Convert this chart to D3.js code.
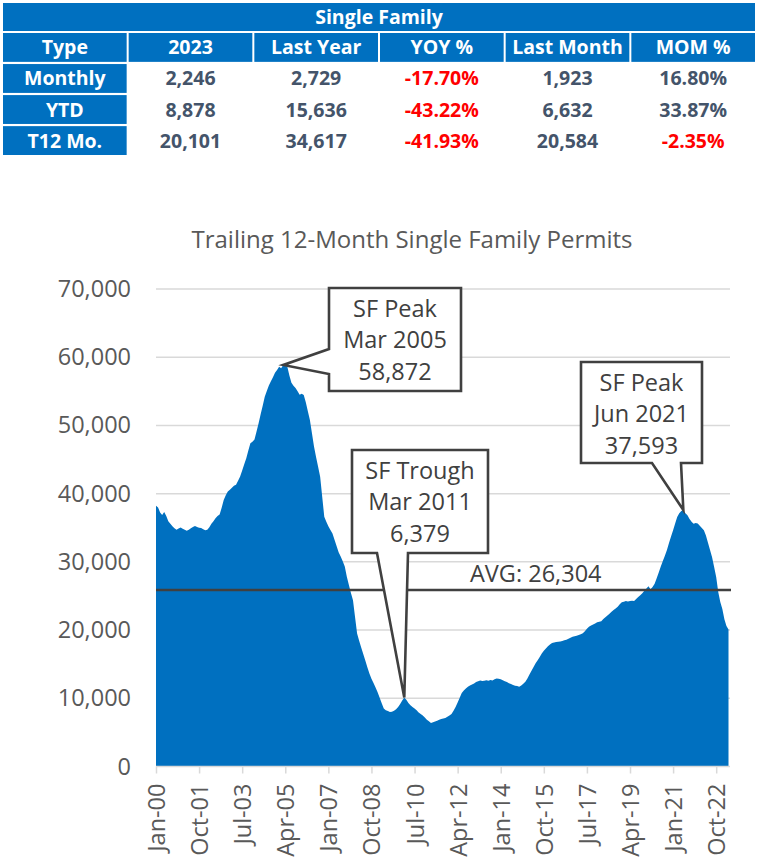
<!doctype html>
<head>
<meta charset="utf-8">
<style>
  body { margin: 0; background: #fff; font-family: "Open Sans", Arial, sans-serif; }
  svg text { font-family: "Open Sans", Arial, sans-serif; }
</style>
<script src="https://cdnjs.cloudflare.com/ajax/libs/d3/7.8.5/d3.min.js"></script>
</head>
<body>
<script>
// ---- table data ----
var tableTitle = "Single Family";
var columns = ["Type", "2023", "Last Year", "YOY %", "Last Month", "MOM %"];
var rowTypes = ["Monthly", "YTD", "T12 Mo."];
var current = [2246, 8878, 20101];
var lastYear = [2729, 15636, 34617];
var yoyPct = [-17.70, -43.22, -41.93];
var lastMonth = [1923, 6632, 20584];
var momPct = [16.80, 33.87, -2.35];

// ---- chart data: trailing 12-month SF permits, Jan 2000 .. Apr 2023 ----
var chartTitle = "Trailing 12-Month Single Family Permits";
var permits = [
  38210, 37980, 37250, 36870, 37310, 36720, 35940, 35580, 35210, 34930, 34690, 34880, // 2000
  35020, 34870, 34710, 34560, 34690, 34930, 35110, 35240, 35120, 35010, 34980, 34790, // 2001
  34650, 34720, 35080, 35590, 35970, 36380, 36710, 36940, 37920, 39080, 39760, 40310, // 2002
  40580, 40870, 41150, 41320, 41880, 42530, 43390, 44310, 45190, 46320, 47380, 47610, // 2003
  47920, 49120, 50310, 51640, 52870, 54190, 55060, 55870, 56480, 57060, 57710, 58140, // 2004
  58610, 58390, 58872, 58720, 58590, 57310, 56240, 55810, 55470, 55020, 54510, 54630, // 2005
  54460, 53380, 52090, 50790, 48870, 46920, 45380, 43960, 42480, 39560, 36620, 35870, // 2006
  35210, 34680, 34170, 33240, 32310, 31420, 30780, 30090, 29320, 27810, 26590, 25420, // 2007
  24380, 21920, 19510, 18420, 17460, 16480, 15530, 14540, 13620, 12870, 12240, 11590, // 2008
  10870, 10080, 9290, 8510, 8260, 8120, 7990, 8030, 8160, 8380, 8710, 9180,           // 2009
  9690, 10110, 9780, 9320, 8980, 8710, 8490, 8240, 7930, 7710, 7480, 7190,            // 2010
  6870, 6620, 6379, 6480, 6590, 6720, 6850, 6960, 7030, 7120, 7290, 7480,             // 2011
  7690, 8170, 8720, 9390, 10080, 10790, 11140, 11420, 11680, 11870, 12010, 12180,     // 2012
  12390, 12480, 12610, 12530, 12580, 12640, 12570, 12690, 12620, 12780, 12910, 12870, // 2013
  12790, 12640, 12510, 12380, 12220, 12090, 11960, 11840, 11790, 11680, 11890, 12120, // 2014
  12410, 12890, 13480, 14030, 14580, 15120, 15590, 16070, 16580, 16970, 17310, 17620, // 2015
  17880, 18110, 18170, 18240, 18290, 18330, 18410, 18520, 18590, 18710, 18860, 19010, // 2016
  19080, 19170, 19260, 19380, 19520, 19810, 20180, 20490, 20670, 20820, 20960, 21140, // 2017
  21230, 21310, 21620, 21870, 22140, 22410, 22680, 22930, 23170, 23420, 23780, 24090, // 2018
  24170, 24260, 24190, 24280, 24310, 24270, 24560, 24830, 25120, 25380, 25760, 26090, // 2019
  26420, 25980, 26310, 26790, 27610, 28430, 29310, 30120, 30890, 31740, 32760, 33720, // 2020
  34640, 35610, 36580, 37120, 37460, 37593, 37140, 36820, 36290, 35870, 35580, 35690, // 2021
  35620, 35310, 34980, 34617, 33870, 32810, 31720, 30680, 29250, 27790, 25580, 24120, // 2022
  23100, 21600, 20584, 20101                                                          // 2023
];
var tickLabels = ["Jan-00", "Oct-01", "Jul-03", "Apr-05", "Jan-07", "Oct-08", "Jul-10",
                  "Apr-12", "Jan-14", "Oct-15", "Jul-17", "Apr-19", "Jan-21", "Oct-22"];
var yTicks = [0, 10000, 20000, 30000, 40000, 50000, 60000, 70000];
var avgLineValue = 25870;
var avgLabel = "AVG: 26,304";

// callouts: month index the pointer touches, and text lines
var calloutIdx = [62, 121, 257];
var calloutText = [
  ["SF Peak", "Mar 2005", "58,872"],
  ["SF Trough", "Mar 2011", "6,379"],
  ["SF Peak", "Jun 2021", "37,593"]
];

var blue = "#0070C0";
var W = 757, H = 863;
var chartFont = "23.5px";

var svg = d3.select("body").append("svg")
  .attr("width", W)
  .attr("height", H);

// ================= table =================
var fmtInt = d3.format(",");
var fmtPct = function(v) { return (v < 0 ? "-" : "") + d3.format(".2f")(Math.abs(v)) + "%"; };

var colX = d3.scaleBand().domain(columns).range([3, 755]).paddingInner(0.016);
var rowY = d3.scaleBand().domain(["head"].concat(rowTypes)).range([33, 155]).paddingInner(0.07);

svg.append("rect")
  .attr("x", 3).attr("y", 3)
  .attr("width", 752).attr("height", 28)
  .attr("fill", blue);
svg.append("text")
  .attr("x", 379).attr("y", 17)
  .attr("dy", "0.36em")
  .attr("text-anchor", "middle")
  .attr("fill", "#fff")
  .style("font-size", "19.5px")
  .style("font-weight", "bold")
  .text(tableTitle);

// header row
var head = svg.append("g").selectAll("g")
  .data(columns).enter().append("g");
head.append("rect")
  .attr("x", function(d) { return colX(d); })
  .attr("y", rowY("head"))
  .attr("width", colX.bandwidth())
  .attr("height", rowY.bandwidth())
  .attr("fill", blue);
head.append("text")
  .attr("x", function(d) { return colX(d) + colX.bandwidth() / 2; })
  .attr("y", rowY("head") + rowY.bandwidth() / 2)
  .attr("dy", "0.36em")
  .attr("text-anchor", "middle")
  .attr("fill", "#fff")
  .style("font-size", "19.5px")
  .style("font-weight", "bold")
  .text(function(d) { return d; });

// body rows
var rows = rowTypes.map(function(t, i) {
  return [
    { text: t, label: true },
    { text: fmtInt(current[i]) },
    { text: fmtInt(lastYear[i]) },
    { text: fmtPct(yoyPct[i]), neg: yoyPct[i] < 0 },
    { text: fmtInt(lastMonth[i]) },
    { text: fmtPct(momPct[i]), neg: momPct[i] < 0 }
  ];
});

var rowG = svg.append("g").selectAll("g")
  .data(rows).enter().append("g")
  .attr("transform", function(d, i) { return "translate(0," + rowY(rowTypes[i]) + ")"; });

rowG.selectAll("rect")
  .data(function(r) { return r; })
  .enter().append("rect")
  .attr("x", function(d, j) { return colX(columns[j]); })
  .attr("width", colX.bandwidth())
  .attr("height", rowY.bandwidth())
  .attr("fill", function(d) { return d.label ? blue : "#fff"; });

rowG.selectAll("text")
  .data(function(r) { return r; })
  .enter().append("text")
  .attr("x", function(d, j) { return colX(columns[j]) + colX.bandwidth() / 2; })
  .attr("y", rowY.bandwidth() / 2)
  .attr("dy", "0.36em")
  .attr("text-anchor", "middle")
  .style("font-size", "19.5px")
  .style("font-weight", "bold")
  .attr("fill", function(d) {
    if (d.label) return "#fff";
    if (d.neg) return "#FF0000";
    return "#44546A";
  })
  .text(function(d) { return d.text; });

// ================= chart =================
var x0 = 156, x1 = 728.5, gridEnd = 730;
var x = d3.scaleLinear().domain([0, permits.length - 1]).range([x0, x1]);
var y = d3.scaleLinear().domain([0, 70000]).range([766.5, 289]);

svg.append("text")
  .attr("x", 412).attr("y", 248)
  .attr("text-anchor", "middle")
  .attr("fill", "#595959")
  .style("font-size", "24px")
  .text(chartTitle);

// gridlines
svg.append("g").selectAll("line")
  .data(yTicks.filter(function(d) { return d > 0; }))
  .enter().append("line")
  .attr("x1", x0).attr("x2", gridEnd)
  .attr("y1", function(d) { return y(d); })
  .attr("y2", function(d) { return y(d); })
  .attr("stroke", "#d9d9d9")
  .attr("stroke-width", 1.5);

// y axis labels
var yAxis = svg.append("g")
  .attr("transform", "translate(" + x0 + ",0)")
  .call(d3.axisLeft(y).tickValues(yTicks).tickSize(0).tickPadding(25).tickFormat(d3.format(",")));
yAxis.select(".domain").remove();
yAxis.selectAll("text")
  .attr("fill", "#595959")
  .style("font-size", chartFont)
  .style("font-family", "'Open Sans', Arial, sans-serif");

// area
var area = d3.area()
  .x(function(d, i) { return x(i); })
  .y0(y(0))
  .y1(function(d) { return y(d); });
svg.append("path")
  .datum(permits)
  .attr("d", area)
  .attr("fill", blue);

// x axis
var xAxis = svg.append("g")
  .attr("transform", "translate(0," + y(0) + ")")
  .call(d3.axisBottom(x)
    .tickValues(d3.range(0, permits.length, 21))
    .tickSize(7)
    .tickSizeOuter(0)
    .tickFormat(function(d, i) { return tickLabels[i]; }));
xAxis.select(".domain")
  .attr("d", "M" + x0 + ",0H" + gridEnd)
  .attr("stroke", "#d9d9d9")
  .attr("stroke-width", 1.5);
xAxis.selectAll(".tick line")
  .attr("stroke", "#d9d9d9")
  .attr("stroke-width", 1.5);
xAxis.selectAll("text")
  .attr("transform", "rotate(-90)")
  .attr("x", -17)
  .attr("y", 0)
  .attr("dy", "0.36em")
  .style("text-anchor", "end")
  .attr("fill", "#595959")
  .style("font-size", chartFont)
  .style("font-family", "'Open Sans', Arial, sans-serif");

// average line
svg.append("line")
  .attr("x1", x0).attr("x2", gridEnd + 1)
  .attr("y1", y(avgLineValue)).attr("y2", y(avgLineValue))
  .attr("stroke", "#404040")
  .attr("stroke-width", 2.5);
svg.append("text")
  .attr("x", 470).attr("y", y(avgLineValue) - 8)
  .attr("fill", "#404040")
  .style("font-size", chartFont)
  .text(avgLabel);

// callouts
var boxes = [
  { x: 329, y: 288, w: 132, h: 103, side: "left", a: 349, b: 374 },
  { x: 352, y: 450, w: 136, h: 103, side: "bottom", a: 377, b: 408 },
  { x: 581, y: 362, w: 121, h: 101, side: "bottom", a: 652, b: 681 }
];

boxes.forEach(function(bx, k) {
  var tx = x(calloutIdx[k]), ty = y(permits[calloutIdx[k]]);
  var p = d3.path();
  p.moveTo(bx.x, bx.y);
  p.lineTo(bx.x + bx.w, bx.y);
  p.lineTo(bx.x + bx.w, bx.y + bx.h);
  if (bx.side === "bottom") {
    p.lineTo(bx.b, bx.y + bx.h);
    p.lineTo(tx, ty);
    p.lineTo(bx.a, bx.y + bx.h);
    p.lineTo(bx.x, bx.y + bx.h);
    p.closePath();
  } else {
    p.lineTo(bx.x, bx.y + bx.h);
    p.lineTo(bx.x, bx.b);
    p.lineTo(tx, ty);
    p.lineTo(bx.x, bx.a);
    p.closePath();
  }
  svg.append("path")
    .attr("d", p.toString())
    .attr("fill", "#fff")
    .attr("stroke", "#404040")
    .attr("stroke-width", 2.6)
    .attr("stroke-linejoin", "miter");

  svg.append("g").selectAll("text")
    .data(calloutText[k])
    .enter().append("text")
    .attr("x", bx.x + bx.w / 2)
    .attr("y", function(d, i) { return bx.y + 28.5 + i * 31.7; })
    .attr("text-anchor", "middle")
    .attr("fill", "#404040")
    .style("font-size", chartFont)
    .text(function(d) { return d; });
});
</script>
</body>
